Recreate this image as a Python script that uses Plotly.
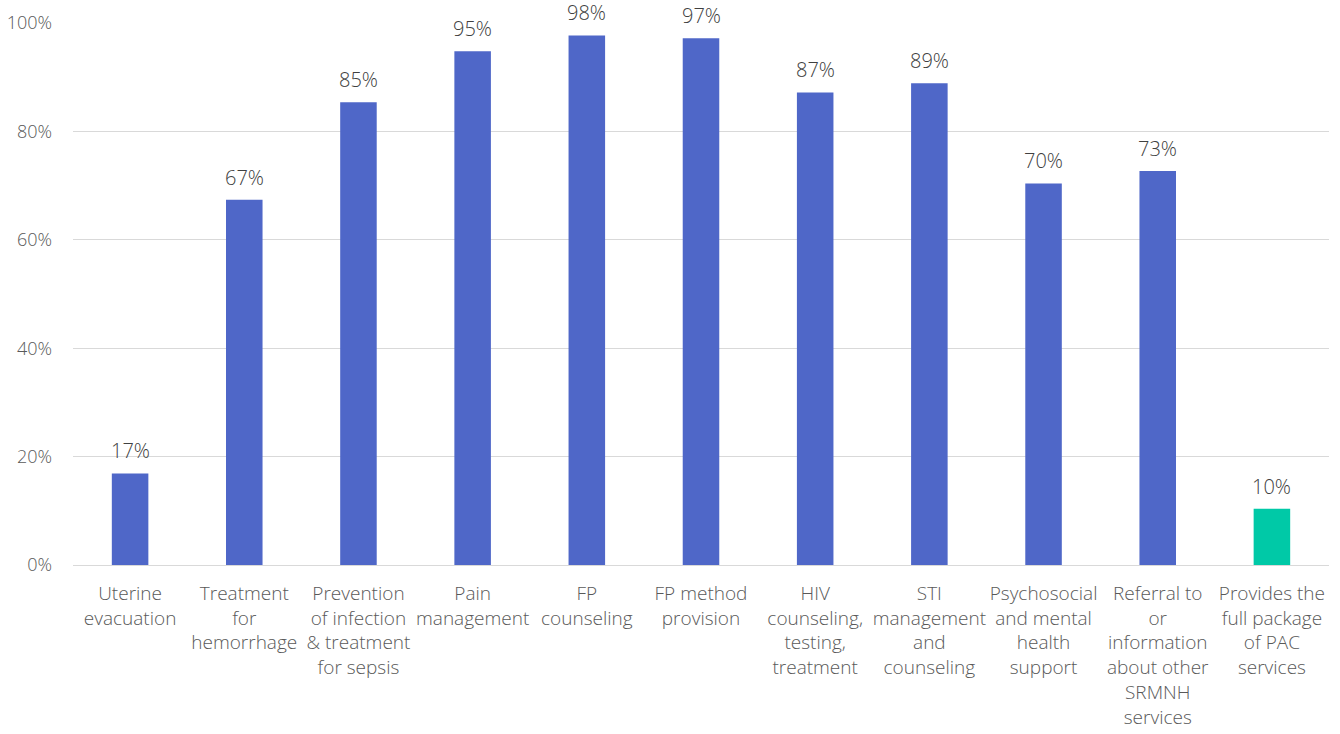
import plotly.graph_objects as go

categories = [
    "Uterine<br>evacuation",
    "Treatment<br>for<br>hemorrhage",
    "Prevention<br>of infection<br>& treatment<br>for sepsis",
    "Pain<br>management",
    "FP<br>counseling",
    "FP method<br>provision",
    "HIV<br>counseling,<br>testing,<br>treatment",
    "STI<br>management<br>and<br>counseling",
    "Psychosocial<br>and mental<br>health<br>support",
    "Referral to<br>or<br>information<br>about other<br>SRMNH<br>services",
    "Provides the<br>full package<br>of PAC<br>services",
]
values = [16.9, 67.4, 85.4, 94.8, 97.7, 97.2, 87.2, 88.9, 70.4, 72.7, 10.4]
bar_colors = ["#4F67C8"] * 10 + ["#00C9A7"]
y_ticks = [0, 20, 40, 60, 80, 100]
y_tick_labels = ["0%", "20%", "40%", "60%", "80%", "100%"]

FONT = "Open Sans"

fig = go.Figure(
    go.Bar(
        x=categories,
        y=values,
        marker=dict(color=bar_colors, line=dict(width=0)),
        hoverinfo="skip",
    )
)

for c, v in zip(categories, values):
    fig.add_annotation(
        x=c, y=v, text=f"{v:.0f}%", showarrow=False,
        yanchor="bottom", yshift=7,
        font=dict(family=FONT, size=20, color="#404040", weight=300),
    )

fig.update_layout(
    width=1340,
    height=734,
    margin=dict(l=73, r=11, t=23, b=169, autoexpand=False),
    paper_bgcolor="white",
    plot_bgcolor="white",
    bargap=0.68,
    showlegend=False,
    font=dict(family=FONT, color="#595959"),
)
fig.update_xaxes(
    tickfont=dict(family=FONT, size=19, color="#595959", weight=300),
    showline=False,
    showgrid=False,
    ticks="",
    automargin=False,
    ticklabelstandoff=15,
)
fig.update_yaxes(
    range=[0, 100],
    tickvals=y_ticks,
    ticktext=y_tick_labels,
    tickfont=dict(family=FONT, size=18, color="#595959", weight=300),
    showgrid=True,
    gridcolor="#D9D9D9",
    gridwidth=1.3,
    zeroline=True,
    zerolinecolor="#D9D9D9",
    zerolinewidth=1.3,
    ticks="",
    ticklabelstandoff=20,
    automargin=False,
)

fig.write_html(
    "out.html",
    config={"displayModeBar": False},
    post_script="document.body.style.margin='0';document.body.style.overflow='hidden';",
)
